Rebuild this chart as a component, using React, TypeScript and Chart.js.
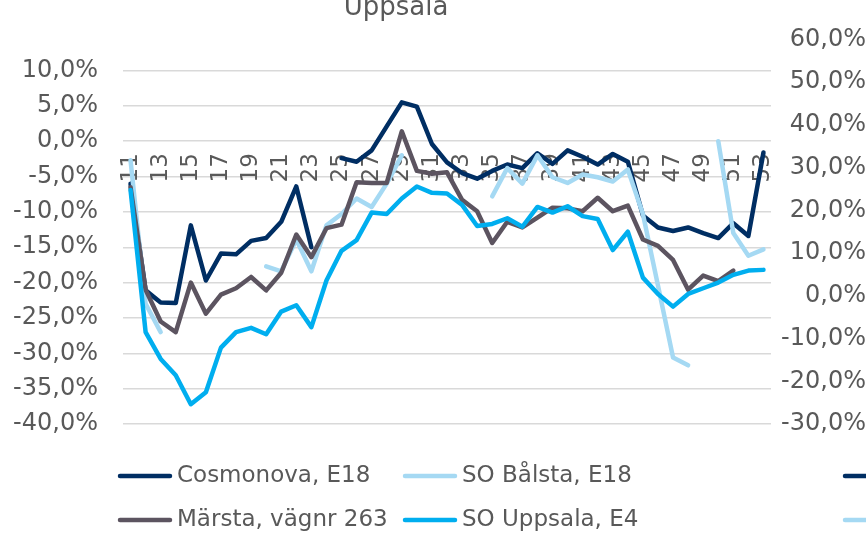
import React, { useEffect, useRef } from 'react';
import { Chart, registerables } from 'chart.js';

Chart.register(...registerables);

const titleText = 'Uppsala';

const weeks = [
  '11', '12', '13', '14', '15', '16', '17', '18', '19', '20', '21', '22', '23', '24', '25',
  '26', '27', '28', '29', '30', '31', '32', '33', '34', '35', '36', '37', '38', '39', '40',
  '41', '42', '43', '44', '45', '46', '47', '48', '49', '50', '51', '52', '53',
];

const cosmonova = [
  -6.0, -21.1, -22.8, -22.9, -11.9, -19.7, -15.9, -16.0, -14.1, -13.7, -11.4, -6.4, -15.0, null,
  -2.4, -2.9, -1.3, 2.1, 5.5, 4.9, -0.4, -3.0, -4.5, -5.3, -4.2, -3.3, -3.8, -1.7, -3.2, -1.3,
  -2.2, -3.3, -1.8, -2.9, -10.5, -12.2, -12.7, -12.2, -13.0, -13.7, -11.6, -13.4, -1.6,
];

const soBalsta = [
  -2.7, -23.0, -27.0, null, null, null, null, null, null, -17.7, -18.4, -13.9, -18.4, -11.9,
  -10.3, -8.1, -9.3, -6.0, -2.0, null, null, null, null, null, -7.8, -3.8, -6.0, -2.0, -5.1, -5.9,
  -4.7, -5.1, -5.7, -4.0, -10.3, -20.4, -30.6, -31.7, null, 0.0, -13.0, -16.2, -15.3,
];

const marsta = [
  -6.5, -21.0, -25.5, -27.0, -20.0, -24.4, -21.7, -20.8, -19.2, -21.1, -18.6, -13.2, -16.4, -12.3,
  -11.8, -5.8, -5.9, -5.9, 1.4, -4.2, -4.6, -4.4, -8.3, -9.9, -14.4, -11.4, -12.2, -10.8, -9.4, -9.5,
  -9.9, -8.0, -9.9, -9.1, -13.9, -14.8, -16.8, -21.0, -19.0, -19.8, -18.3, null, null,
];

const soUppsala = [
  -6.9, -27.0, -30.8, -33.1, -37.2, -35.5, -29.2, -27.0, -26.4, -27.3, -24.1, -23.2, -26.3, -19.7,
  -15.5, -14.0, -10.1, -10.3, -8.1, -6.4, -7.3, -7.4, -9.0, -12.0, -11.7, -10.9, -12.1, -9.3, -10.1, -9.2,
  -10.6, -11.0, -15.4, -12.8, -19.3, -21.6, -23.4, -21.6, -20.8, -20.0, -18.9, -18.3, -18.2,
];

// Series on the secondary axis whose legend entries are cut off at the right edge
const hiddenA = weeks.map(() => null);
const hiddenB = weeks.map(() => null);

const seriesLabels = [
  'Cosmonova, E18',
  'SO Bålsta, E18',
  '',
  'Märsta, vägnr 263',
  'SO Uppsala, E4',
  '',
];

const leftTicks = { min: -40, max: 14.4, step: 5 };
const rightTicks = { min: -30, max: 60, step: 10 };

const NAVY = '#002E63';
const LIGHT = '#A5D9F3';
const GREY = '#5C5460';
const BLUE = '#00AEEF';
const TEXT = '#595959';
const FONT = '"DejaVu Sans", Verdana, sans-serif';

const pct = (v: number) => v.toFixed(1).replace('.', ',') + '%';

const titlePlugin = {
  id: 'excelTitle',
  afterDraw(chart: any) {
    const ctx = chart.ctx;
    ctx.save();
    ctx.font = `26px ${FONT}`;
    ctx.fillStyle = TEXT;
    ctx.textAlign = 'center';
    ctx.textBaseline = 'alphabetic';
    ctx.fillText(titleText, 396, 15);
    ctx.restore();
  },
};

const legendPlugin = {
  id: 'excelLegend',
  afterDraw(chart: any) {
    const ctx = chart.ctx;
    const cols = [118, 403, 843];
    const rows = [476, 520];
    ctx.save();
    ctx.font = `23px ${FONT}`;
    ctx.textBaseline = 'middle';
    ctx.textAlign = 'left';
    chart.data.datasets.forEach((ds: any, i: number) => {
      const x = cols[i % 3];
      const y = rows[Math.floor(i / 3)];
      ctx.strokeStyle = ds.borderColor;
      ctx.lineWidth = 4.5;
      ctx.lineCap = 'round';
      ctx.beginPath();
      ctx.moveTo(x + 2, y);
      ctx.lineTo(x + 52, y);
      ctx.stroke();
      if (ds.label) {
        ctx.fillStyle = TEXT;
        ctx.fillText(ds.label, x + 59, y);
      }
    });
    ctx.restore();
  },
};

function makeDataset(label: string, data: (number | null)[], color: string, axis: string, order: number) {
  return {
    label,
    data,
    borderColor: color,
    backgroundColor: color,
    borderWidth: 4.5,
    pointRadius: 0,
    pointHoverRadius: 0,
    tension: 0,
    spanGaps: false,
    borderJoinStyle: 'round' as const,
    borderCapStyle: 'round' as const,
    yAxisID: axis,
    order,
  };
}

export default function App() {
  const ref = useRef<HTMLCanvasElement>(null);

  useEffect(() => {
    if (!ref.current) return;
    const chart = new Chart(ref.current, {
      type: 'line',
      data: {
        labels: weeks,
        datasets: [
          makeDataset(seriesLabels[0], cosmonova, NAVY, 'y', 6),
          makeDataset(seriesLabels[1], soBalsta, LIGHT, 'y', 5),
          makeDataset(seriesLabels[2], hiddenA, NAVY, 'y1', 4),
          makeDataset(seriesLabels[3], marsta, GREY, 'y', 3),
          makeDataset(seriesLabels[4], soUppsala, BLUE, 'y', 2),
          makeDataset(seriesLabels[5], hiddenB, LIGHT, 'y1', 1),
        ],
      },
      options: {
        animation: false,
        responsive: true,
        maintainAspectRatio: false,
        layout: { padding: { top: 21, bottom: 109, left: 0, right: 0 } },
        plugins: {
          legend: { display: false },
          title: { display: false },
          tooltip: { enabled: false },
        },
        scales: {
          x: {
            type: 'category',
            offset: true,
            position: { y: -1.7 } as any,
            grid: { display: false, drawTicks: false },
            border: { display: false },
            ticks: {
              autoSkip: false,
              minRotation: 90,
              maxRotation: 90,
              padding: 0,
              color: TEXT,
              font: { family: FONT, size: 23 },
              callback: (_v: any, i: number) => (i % 2 === 0 ? weeks[i] : ''),
            },
          },
          y: {
            type: 'linear',
            position: 'left',
            min: leftTicks.min,
            max: leftTicks.max,
            afterFit: (s: any) => {
              s.width = 123;
            },
            grid: { color: '#D9D9D9', lineWidth: 1.5, drawTicks: false },
            border: { display: false },
            ticks: {
              stepSize: leftTicks.step,
              includeBounds: false,
              padding: 25,
              color: TEXT,
              font: { family: FONT, size: 24 },
              callback: (v: any) => pct(Number(v)),
            },
          },
          y1: {
            type: 'linear',
            position: 'right',
            min: rightTicks.min,
            max: rightTicks.max,
            afterFit: (s: any) => {
              s.width = 95;
            },
            grid: { display: false, drawTicks: false, drawOnChartArea: false },
            border: { display: false },
            ticks: {
              stepSize: rightTicks.step,
              crossAlign: 'far',
              padding: 4,
              color: TEXT,
              font: { family: FONT, size: 24 },
              callback: (v: any) => pct(Number(v)),
            },
          },
        },
      },
      plugins: [titlePlugin, legendPlugin],
    });
    return () => chart.destroy();
  }, []);

  return (
    <div style={{ position: 'absolute', left: 0, top: 0, width: 866, height: 533, background: '#fff' }}>
      <canvas ref={ref} />
    </div>
  );
}
